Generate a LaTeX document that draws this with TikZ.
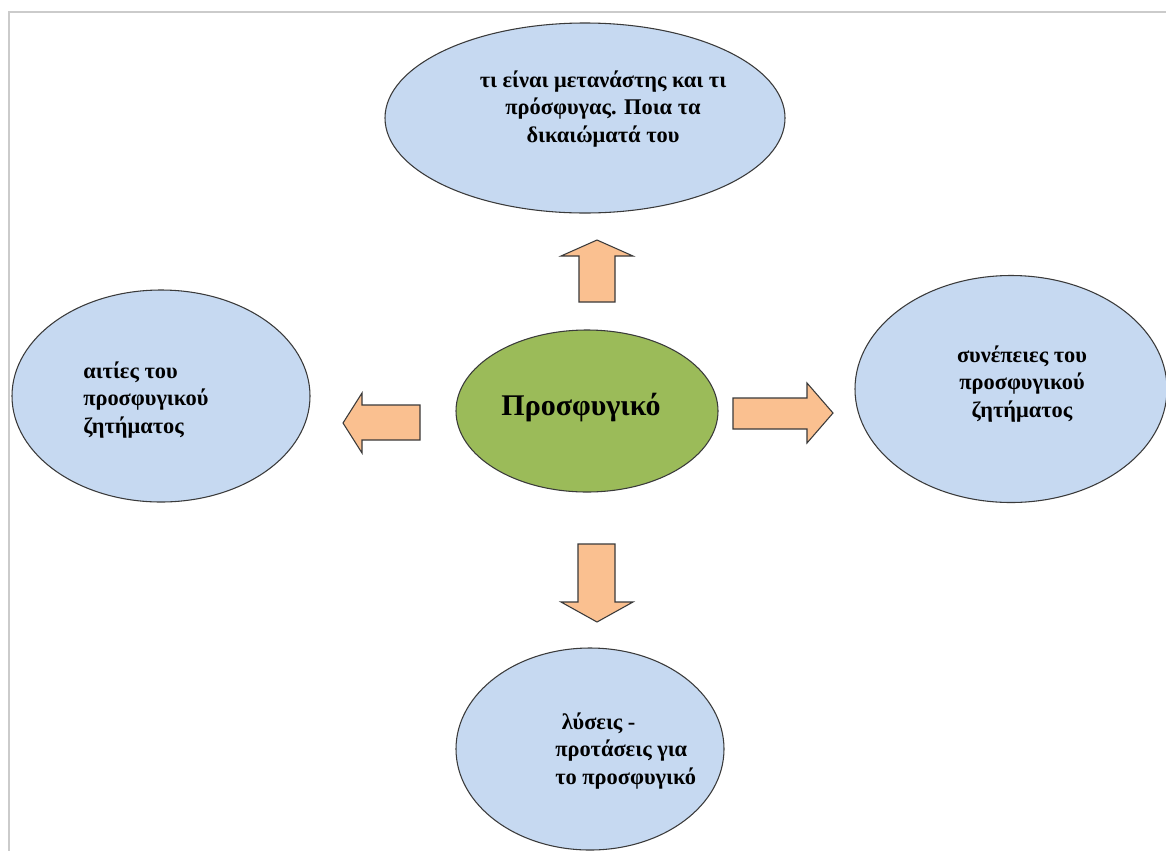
\documentclass[tikz,border=0pt]{standalone}
\usepackage{fontspec}
\setmainfont{Liberation Serif}
\usetikzlibrary{shapes.geometric}

\definecolor{bubbleblue}{HTML}{C6D9F1}
\definecolor{hubgreen}{HTML}{9BBB59}
\definecolor{arrowfill}{HTML}{FAC090}
\definecolor{rimgray}{HTML}{3A3A3A}
\definecolor{framegray}{HTML}{CBCBCB}

\tikzset{
  bubble/.style={ellipse, draw=rimgray, line width=0.8pt, fill=bubbleblue, inner sep=0pt},
  hub/.style={ellipse, draw=rimgray, line width=0.8pt, fill=hubgreen, inner sep=0pt},
  blockarrow/.style={draw=rimgray, line width=0.8pt, fill=arrowfill, line join=miter},
  bubbletext/.style={font=\bfseries\fontsize{16.8}{20.5}\selectfont, align=center, inner sep=0pt, text=black},
  hubtext/.style={font=\bfseries\fontsize{22.5}{26}\selectfont, inner sep=0pt, text=black}
}

\begin{document}
\begin{tikzpicture}[x=0.75pt, y=-0.75pt]
  \useasboundingbox (0,0) rectangle (1166,850);
  \clip (0,0) rectangle (1166,850);
  \fill[white] (0,0) rectangle (1166,850);

  % page frame
  \draw[framegray, line width=1.5pt] (8.5,851) -- (8.5,12) -- (1167,12);

  % bubbles
  \node[bubble, minimum width=300pt, minimum height=142.5pt] (topb) at (585,118) {};
  \node[bubble, minimum width=223.5pt, minimum height=159pt] (leftb) at (161,396) {};
  \node[bubble, minimum width=234pt, minimum height=170.25pt] (rightb) at (1011,389) {};
  \node[bubble, minimum width=201pt, minimum height=151.5pt] (bottomb) at (590,749) {};
  \node[hub, minimum width=196.5pt, minimum height=121.5pt] (hubb) at (587,411) {};

  % texts
  \node[bubbletext] (toptext) at (603,109) {τι είναι μετανάστης και τι\\πρόσφυγας. Ποια τα\\δικαιώματά του};
  \node[bubbletext, align=left, anchor=west] (lefttext) at (83,400) {αιτίες του\\προσφυγικού\\ζητήματος};
  \node[bubbletext] (righttext) at (1022,384) {συνέπειες του\\προσφυγικού\\ζητήματος};
  \node[bubbletext, align=left, anchor=west] (bottomtext) at (555,751) {\hspace*{5pt}λύσεις -\\προτάσεις για\\το προσφυγικό};
  \node[hubtext] (hubtext) at (581,408) {Προσφυγικό};

  % block arrows
  \draw[blockarrow] (579,302) -- (579,256) -- (561,256) -- (597,240) -- (633,256) -- (615,256) -- (615,302) -- cycle;
  \draw[blockarrow] (420,405) -- (362,405) -- (362,393) -- (343,423) -- (362,453) -- (362,440) -- (420,440) -- cycle;
  \draw[blockarrow] (733,398) -- (807,398) -- (807,383) -- (833,413) -- (807,443) -- (807,429) -- (733,429) -- cycle;
  \draw[blockarrow] (578,544) -- (615,544) -- (615,602) -- (633,602) -- (597,622) -- (561,602) -- (578,602) -- cycle;
\end{tikzpicture}
\end{document}
